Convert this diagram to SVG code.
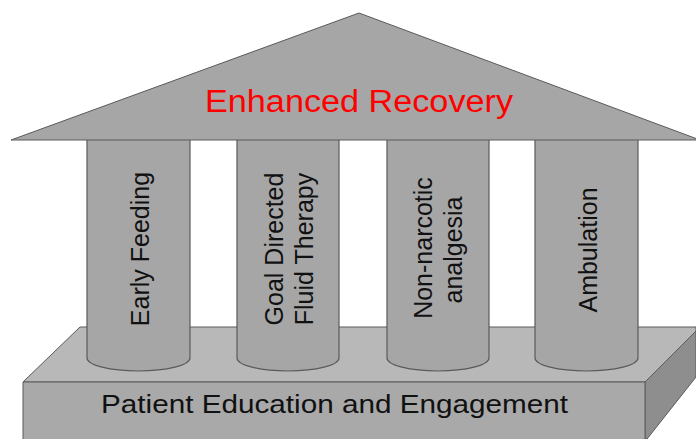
<svg xmlns="http://www.w3.org/2000/svg" width="696" height="439" viewBox="0 0 696 439">
<style>
.face{stroke:#5a5a5a;stroke-width:1;stroke-linejoin:miter}
.col{fill:#a6a6a6;stroke:#5a5a5a;stroke-width:1.2}
.lbl{font-family:"Liberation Sans",Arial,sans-serif;font-size:25px;fill:#111;text-anchor:middle}
</style>
<rect width="696" height="439" fill="#ffffff"/>
<g id="base">
<polygon class="face" points="23,382 80,327 696,327 696,331 645,382" fill="#b8b8b8"/>
<polygon class="face" points="645,382 696,331 696,377 647,439 645,439" fill="#8e8e8e"/>
<polygon class="face" points="23,382 645,382 645,440 23,440" fill="#a9a9a9"/>
<text class="lbl" x="334.5" y="413" font-size="26.5" textLength="467" lengthAdjust="spacingAndGlyphs">Patient Education and Engagement</text>
</g>
<g id="pillar-early-feeding">
<path class="col" d="M87,138 L87,358 A51.5,13 0 0 0 190,358 L190,138 Z"/>
<text class="lbl" transform="translate(148.5,249) rotate(-90)">Early Feeding</text>
</g>
<g id="pillar-fluid-therapy">
<path class="col" d="M237,138 L237,358 A51,13 0 0 0 339,358 L339,138 Z"/>
<text class="lbl" transform="translate(283,249) rotate(-90)">Goal Directed</text>
<text class="lbl" transform="translate(313,249) rotate(-90)">Fluid Therapy</text>
</g>
<g id="pillar-analgesia">
<path class="col" d="M387,138 L387,358 A51,13 0 0 0 489,358 L489,138 Z"/>
<text class="lbl" transform="translate(432,248) rotate(-90)">Non-narcotic</text>
<text class="lbl" transform="translate(462,250) rotate(-90)">analgesia</text>
</g>
<g id="pillar-ambulation">
<path class="col" d="M535,138 L535,358 A51.5,13 0 0 0 638,358 L638,138 Z"/>
<text class="lbl" transform="translate(597,250) rotate(-90)">Ambulation</text>
</g>
<g id="roof">
<polygon class="face" points="11,140 359,13 700,140" fill="#a6a6a6"/>
<text x="359" y="111.5" font-family="Liberation Sans, Arial, sans-serif" font-size="31" fill="#ff0000" text-anchor="middle" textLength="308" lengthAdjust="spacingAndGlyphs">Enhanced Recovery</text>
</g>
<g id="connectors"/>
</svg>
